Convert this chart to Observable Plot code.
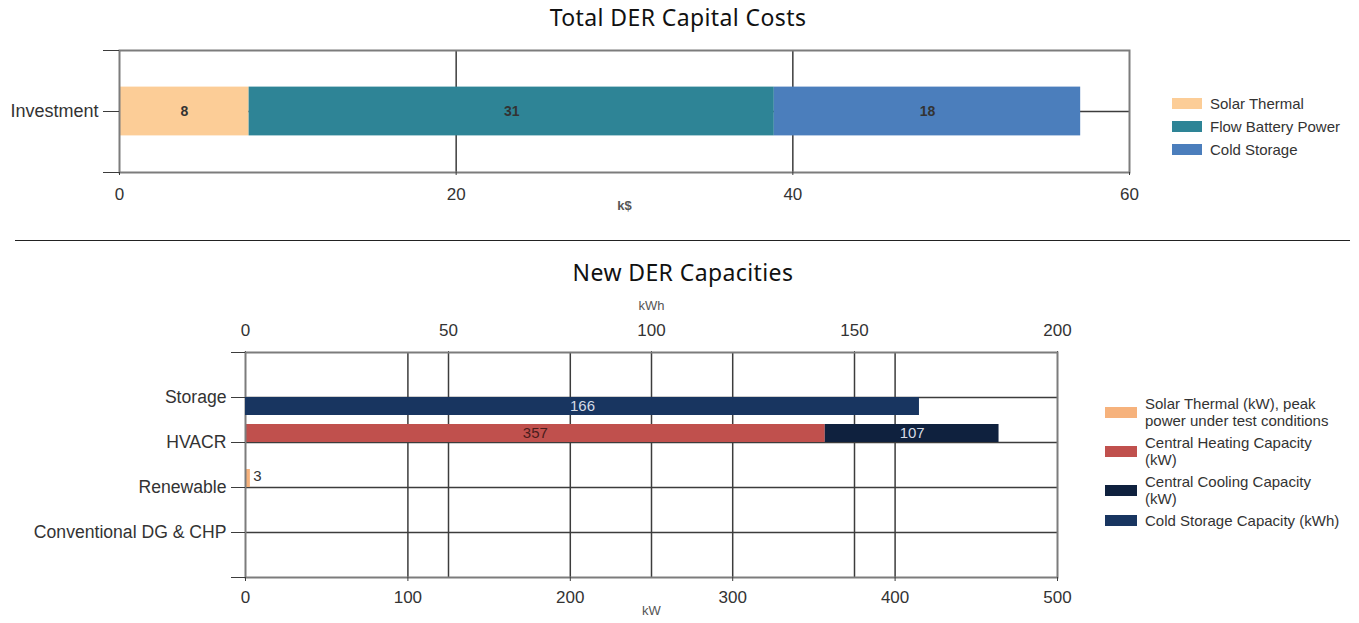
<!DOCTYPE html>
<html>
<head>
<meta charset="utf-8">
<script src="https://cdn.jsdelivr.net/npm/d3@7"></script>
<script src="https://cdn.jsdelivr.net/npm/@observablehq/plot@0.6"></script>
<style>
  body { margin: 0; background: #fff; }
  #root { position: relative; width: 1359px; height: 623px; overflow: hidden; font-family: "Liberation Sans", Arial, sans-serif; }
  .layer { position: absolute; left: 0; }
  .title { position: absolute; font-family: "Noto Sans", sans-serif; font-size: 23px; letter-spacing: 0.4px; color: #111; white-space: nowrap; transform: translate(-50%, -50%); }
  .sep { position: absolute; left: 15px; width: 1335px; top: 240px; height: 1px; background: #222; }
  .legend { position: absolute; font-family: "Liberation Sans", Arial, sans-serif; color: #333; font-size: 15px; }
  .legend .item { display: flex; align-items: center; }
  .legend .sw { flex: none; }
</style>
</head>
<body>
<div id="root"></div>
<script>
// ---------- Data: Total DER Capital Costs ----------
const costCategories = ["Investment"];
const costSeries = ["Solar Thermal", "Flow Battery Power", "Cold Storage"];
const costValues = [7.7, 31.2, 18.2];          // k$
const costTicks = [0, 20, 40, 60];
const costUnit = "k$";
const costTitle = "Total DER Capital Costs";

// ---------- Data: New DER Capacities ----------
const capCategories = ["Storage", "HVACR", "Renewable", "Conventional DG & CHP"];
const capSeries = [
  "Solar Thermal (kW), peak power under test conditions",
  "Central Heating Capacity (kW)",
  "Central Cooling Capacity (kW)",
  "Cold Storage Capacity (kWh)"
];
const capSeriesCategory = ["Renewable", "HVACR", "HVACR", "Storage"];
const capSeriesUnit = ["kW", "kW", "kW", "kWh"];
const capValues = [3, 357, 107, 166];
const kWTicks = [0, 100, 200, 300, 400, 500];
const kWhTicks = [0, 50, 100, 150, 200];
const capTitle = "New DER Capacities";

// ---------- Styles ----------
const W = 1359;
const FONT = "'Liberation Sans', Arial, sans-serif";
const costColors = ["#FCCD97", "#2E8496", "#4B7EBC"];
const capColors = ["#F6B27C", "#C0504D", "#0F213E", "#183560"];
const capLabelColors = ["#333333", "#4a1c1c", "#d5dbe5", "#d5dbe5"];
const capSide = [-1, -1, -1, 1];   // bar drawn above (-1) or below (+1) its category line
const BAR = 0.4;
const gridStroke = "#3c3c3c";
const frameStroke = "#7c7c7c";

const root = document.getElementById("root");
function place(node, top) {
  node.classList.add("layer");
  node.style.top = top + "px";
  root.appendChild(node);
}
function stackRows(rows) {
  const acc = new Map();
  for (const r of rows) {
    const k = r.category + "|" + r.unit;
    const s = acc.get(k) || 0;
    r.x1 = s; r.x2 = s + r.value;
    acc.set(k, r.x2);
  }
  return rows;
}

// ---------- Top chart ----------
const costRows = stackRows(costSeries.map((s, i) => ({category: costCategories[0], unit: costUnit, series: s, value: costValues[i]})));
const costPos = c => costCategories.indexOf(c) + 0.5;

const topPlot = Plot.plot({
  width: W, height: 180,
  marginLeft: 119, marginRight: 230, marginTop: 10, marginBottom: 48,
  style: {fontFamily: FONT, fontSize: "17px", color: "#333", background: "transparent"},
  x: {domain: [costTicks[0], costTicks[costTicks.length - 1]], axis: null},
  y: {domain: [costCategories.length, 0], axis: null},
  color: {domain: costSeries, range: costColors},
  marks: [
    Plot.ruleX(costTicks.slice(1, -1), {stroke: gridStroke, strokeWidth: 1.5}),
    Plot.ruleY(costCategories.map(costPos), {stroke: gridStroke, strokeWidth: 1.5}),
    Plot.rect(costRows, {x1: "x1", x2: "x2", y1: d => costPos(d.category) - BAR / 2, y2: d => costPos(d.category) + BAR / 2, fill: "series"}),
    Plot.text(costRows, {x: d => (d.x1 + d.x2) / 2, y: d => costPos(d.category), text: d => d3.format(".0f")(d.value), fill: "#333", fontSize: 14, fontWeight: "bold"}),
    Plot.frame({stroke: frameStroke, strokeWidth: 2}),
    Plot.axisX({anchor: "bottom", ticks: costTicks, tickSize: 3, tickPadding: 12, label: null, stroke: gridStroke}),
    Plot.axisY({ticks: [0, ...costCategories.map(costPos), costCategories.length], tickFormat: d => costCategories[d - 0.5] ?? "", tickSize: 16, tickPadding: 5, label: null, stroke: gridStroke, fontSize: 18}),
    Plot.text([costUnit], {frameAnchor: "bottom", dy: 37, text: d => d, fontSize: 13, fontWeight: "bold", fill: "#555"})
  ]
});
place(topPlot, 40);

// ---------- Bottom chart (three layers: kWh grid, kW chart, kWh bars) ----------
const capRows = stackRows(capSeries.map((s, i) => ({
  series: s, category: capSeriesCategory[i], unit: capSeriesUnit[i], value: capValues[i],
  side: capSide[i], labelColor: capLabelColors[i]
})));
const catY = c => capCategories.indexOf(c) + 1;
const yb1 = d => d.side < 0 ? catY(d.category) - BAR : catY(d.category);
const yb2 = d => d.side < 0 ? catY(d.category) : catY(d.category) + BAR;
const ybm = d => (yb1(d) + yb2(d)) / 2;

const common = {
  width: W, height: 333,
  marginLeft: 245, marginRight: 302, marginTop: 62, marginBottom: 46,
  style: {fontFamily: FONT, fontSize: "17px", color: "#333", background: "transparent"},
  y: {domain: [capCategories.length + 1, 0], axis: null},
  color: {domain: capSeries, range: capColors}
};

function barMarks(rows, xMax) {
  const marks = [Plot.rect(rows, {x1: "x1", x2: "x2", y1: yb1, y2: yb2, fill: "series"})];
  for (const r of rows) {
    const inside = (r.value / xMax) * (W - 245 - 302) > 30;
    marks.push(Plot.text([r], {
      x: d => inside ? (d.x1 + d.x2) / 2 : d.x2, y: ybm, text: d => String(d.value),
      fill: r.labelColor, fontSize: 15, textAnchor: inside ? "middle" : "start", dx: inside ? 0 : 3, dy: inside ? 0 : -2
    }));
  }
  return marks;
}

const kWhDomain = [kWhTicks[0], kWhTicks[kWhTicks.length - 1]];
const kWDomain = [kWTicks[0], kWTicks[kWTicks.length - 1]];
const kWhRows = capRows.filter(r => r.unit === "kWh");
const kWRows = capRows.filter(r => r.unit === "kW");

const layerA = Plot.plot({
  ...common,
  x: {domain: kWhDomain, axis: null},
  marks: [
    Plot.ruleX(kWhTicks.slice(1, -1), {stroke: gridStroke, strokeWidth: 1.5}),
    Plot.axisX({anchor: "top", ticks: kWhTicks, tickSize: 2, tickPadding: 15, label: null, stroke: gridStroke}),
    Plot.text(["kWh"], {frameAnchor: "top", dy: -52, text: d => d, fontSize: 13, fill: "#555"})
  ]
});
const layerB = Plot.plot({
  ...common,
  x: {domain: kWDomain, axis: null},
  marks: [
    Plot.ruleX(kWTicks.slice(1, -1), {stroke: gridStroke, strokeWidth: 1.5}),
    Plot.ruleY(capCategories.map(catY), {stroke: gridStroke, strokeWidth: 1.5}),
    ...barMarks(kWRows, kWDomain[1]),
    Plot.frame({stroke: frameStroke, strokeWidth: 2}),
    Plot.axisX({anchor: "bottom", ticks: kWTicks, tickSize: 4, tickPadding: 9, label: null, stroke: gridStroke}),
    Plot.axisY({ticks: d3.range(0, capCategories.length + 2), tickFormat: d => capCategories[d - 1] ?? "", tickSize: 14, tickPadding: 5, label: null, stroke: gridStroke, fontSize: 17.6}),
    Plot.text(["kW"], {frameAnchor: "bottom", dy: 37, text: d => d, fontSize: 13, fill: "#555"})
  ]
});
const layerC = Plot.plot({
  ...common,
  x: {domain: kWhDomain, axis: null},
  marks: barMarks(kWhRows, kWhDomain[1])
});
place(layerA, 290);
place(layerB, 290);
place(layerC, 290);

// ---------- Titles, separator ----------
function addTitle(text, x, y) {
  const d = document.createElement("div");
  d.className = "title"; d.textContent = text;
  d.style.left = x + "px"; d.style.top = y + "px";
  root.appendChild(d);
}
addTitle(costTitle, 678, 17);
addTitle(capTitle, 683, 272);
const sep = document.createElement("div"); sep.className = "sep"; root.appendChild(sep);

// ---------- Legends ----------
function legend(series, colors, opts) {
  const box = document.createElement("div");
  box.className = "legend";
  box.style.left = opts.left + "px"; box.style.top = opts.top + "px";
  series.forEach((s, i) => {
    const it = document.createElement("div");
    it.className = "item";
    it.style.marginBottom = opts.gap + "px";
    const sw = document.createElement("div");
    sw.className = "sw";
    sw.style.width = opts.swW + "px"; sw.style.height = opts.swH + "px";
    sw.style.background = colors[i]; sw.style.marginRight = opts.pad + "px";
    const tx = document.createElement("div");
    tx.textContent = s;
    tx.style.lineHeight = opts.lh + "px";
    if (opts.textW) tx.style.width = opts.textW + "px";
    it.appendChild(sw); it.appendChild(tx);
    box.appendChild(it);
  });
  root.appendChild(box);
}
legend(costSeries, costColors, {left: 1172, top: 95, gap: 6, swW: 30, swH: 11, pad: 8, lh: 17});
legend(capSeries, capColors, {left: 1105, top: 395, gap: 5, swW: 32, swH: 11, pad: 8, lh: 17, textW: 197});
</script>
</body>
</html>
